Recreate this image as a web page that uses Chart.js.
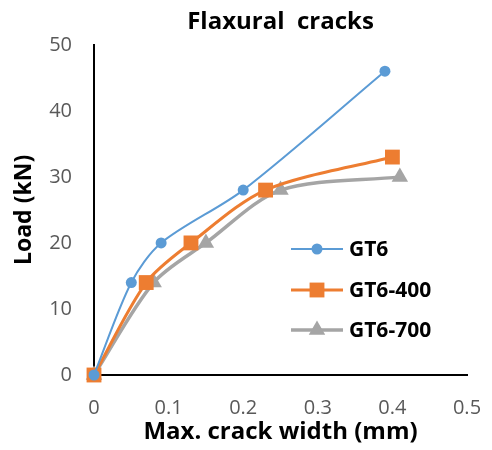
<!DOCTYPE html>
<html>
<head>
<meta charset="utf-8">
<script src="https://cdn.jsdelivr.net/npm/chart.js@4/dist/chart.umd.min.js"></script>
<style>
  html, body { margin: 0; padding: 0; background: #fff; }
  #wrap { width: 492px; height: 450px; }
</style>
</head>
<body>
<div id="wrap"><canvas id="graph" width="492" height="450"></canvas></div>
<script>
// values
var seriesNames = ["GT6", "GT6-400", "GT6-700"];
var gt6X = [0, 0.05, 0.09, 0.20, 0.39];
var gt6Y = [0, 14, 20, 28, 46];
var gt400X = [0, 0.07, 0.13, 0.23, 0.40];
var gt400Y = [0, 14, 20, 28, 33];
var gt700X = [0, 0.08, 0.15, 0.25, 0.41];
var gt700Y = [0, 14, 20, 28, 30];
var xTicks = [0, 0.1, 0.2, 0.3, 0.4, 0.5];
var yTicks = [0, 10, 20, 30, 40, 50];

function pairs(xs, ys) {
  var out = [];
  for (let i = 0; i < xs.length; i++) out.push({x: xs[i], y: ys[i]});
  return out;
}

var FONT = "'Open Sans', sans-serif";

// legend drawn inside the plot, like the original
var innerLegend = {
  id: "innerLegend",
  afterDraw: function(chart) {
    var ctx = chart.ctx;
    var rows = [249, 290, 330];
    chart.data.datasets.forEach(function(ds, i) {
      var y = rows[i];
      ctx.save();
      ctx.strokeStyle = ds.borderColor;
      ctx.lineWidth = ds.borderWidth;
      ctx.beginPath();
      ctx.moveTo(291, y);
      ctx.lineTo(343, y);
      ctx.stroke();
      ctx.fillStyle = ds.pointBackgroundColor;
      var r = ds.pointRadius;
      ctx.beginPath();
      if (ds.pointStyle == "circle") {
        ctx.arc(317, y, r, 0, Math.PI * 2);
      } else if (ds.pointStyle == "rect") {
        var s = r * Math.SQRT1_2;
        ctx.rect(317 - s, y - s, s * 2, s * 2);
      } else {
        ctx.moveTo(317, y - r);
        ctx.lineTo(317 + r * 0.866, y + r * 0.5);
        ctx.lineTo(317 - r * 0.866, y + r * 0.5);
        ctx.closePath();
      }
      ctx.fill();
      ctx.fillStyle = "#000";
      ctx.font = "bold 21px " + FONT;
      ctx.textBaseline = "middle";
      ctx.fillText(ds.label, 349, y + 1);
      ctx.restore();
    });
  }
};

const graph = new Chart("graph", {
  type: "line",
  data: {
    datasets: [{
      label: seriesNames[0],
      data: pairs(gt6X, gt6Y),
      borderColor: "#5B9BD5",
      backgroundColor: "#5B9BD5",
      pointBackgroundColor: "#5B9BD5",
      pointBorderWidth: 0,
      borderWidth: 2,
      pointStyle: "circle",
      pointRadius: 5.5
    }, {
      label: seriesNames[1],
      data: pairs(gt400X, gt400Y),
      borderColor: "#ED7D31",
      backgroundColor: "#ED7D31",
      pointBackgroundColor: "#ED7D31",
      pointBorderWidth: 0,
      borderWidth: 3,
      pointStyle: "rect",
      pointRadius: 10.5
    }, {
      label: seriesNames[2],
      data: pairs(gt700X, gt700Y),
      borderColor: "#A5A5A5",
      backgroundColor: "#A5A5A5",
      pointBackgroundColor: "#A5A5A5",
      pointBorderWidth: 0,
      borderWidth: 3.5,
      pointStyle: "triangle",
      pointRadius: 9.5
    }]
  },
  options: {
    responsive: false,
    animation: false,
    clip: false,
    layout: { padding: { top: 0, right: 25, bottom: 0, left: 0 } },
    elements: { line: { tension: 0.3 } },
    plugins: {
      legend: { display: false },
      tooltip: { enabled: false },
      title: {
        display: true,
        text: "Flaxural  cracks",
        fullSize: false,
        color: "#000",
        font: { family: FONT, size: 24, weight: "bold" },
        padding: { top: 8, bottom: 8 }
      }
    },
    scales: {
      x: {
        type: "linear",
        min: 0, max: 0.5,
        afterBuildTicks: function(s) { s.ticks = xTicks.map(v => ({value: v})); },
        afterFit: function(s) { s.height = 75; s.paddingLeft = 0; s.paddingRight = 0; },
        grid: { display: false, drawTicks: false },
        border: { display: true, color: "#000", width: 2 },
        ticks: {
          color: "#595959",
          padding: 21,
          font: { family: FONT, size: 20 },
          callback: function(v) { return String(v); }
        },
        title: {
          display: true,
          text: "Max. crack width (mm)",
          color: "#000",
          font: { family: FONT, size: 24, weight: "bold" },
          padding: { top: 0, bottom: 3 }
        }
      },
      y: {
        min: 0, max: 50,
        afterBuildTicks: function(s) { s.ticks = yTicks.map(v => ({value: v})); },
        afterFit: function(s) { s.width = 94; s.paddingTop = 0; s.paddingBottom = 0; },
        grid: { display: false, drawTicks: false },
        border: { display: true, color: "#000", width: 2 },
        ticks: {
          color: "#595959",
          padding: 22,
          font: { family: FONT, size: 20 }
        },
        title: {
          display: true,
          text: "Load (kN)",
          color: "#000",
          font: { family: FONT, size: 23, weight: "bold" },
          padding: { top: 11, bottom: 0 }
        }
      }
    }
  },
  plugins: [innerLegend]
});
</script>
</body>
</html>
